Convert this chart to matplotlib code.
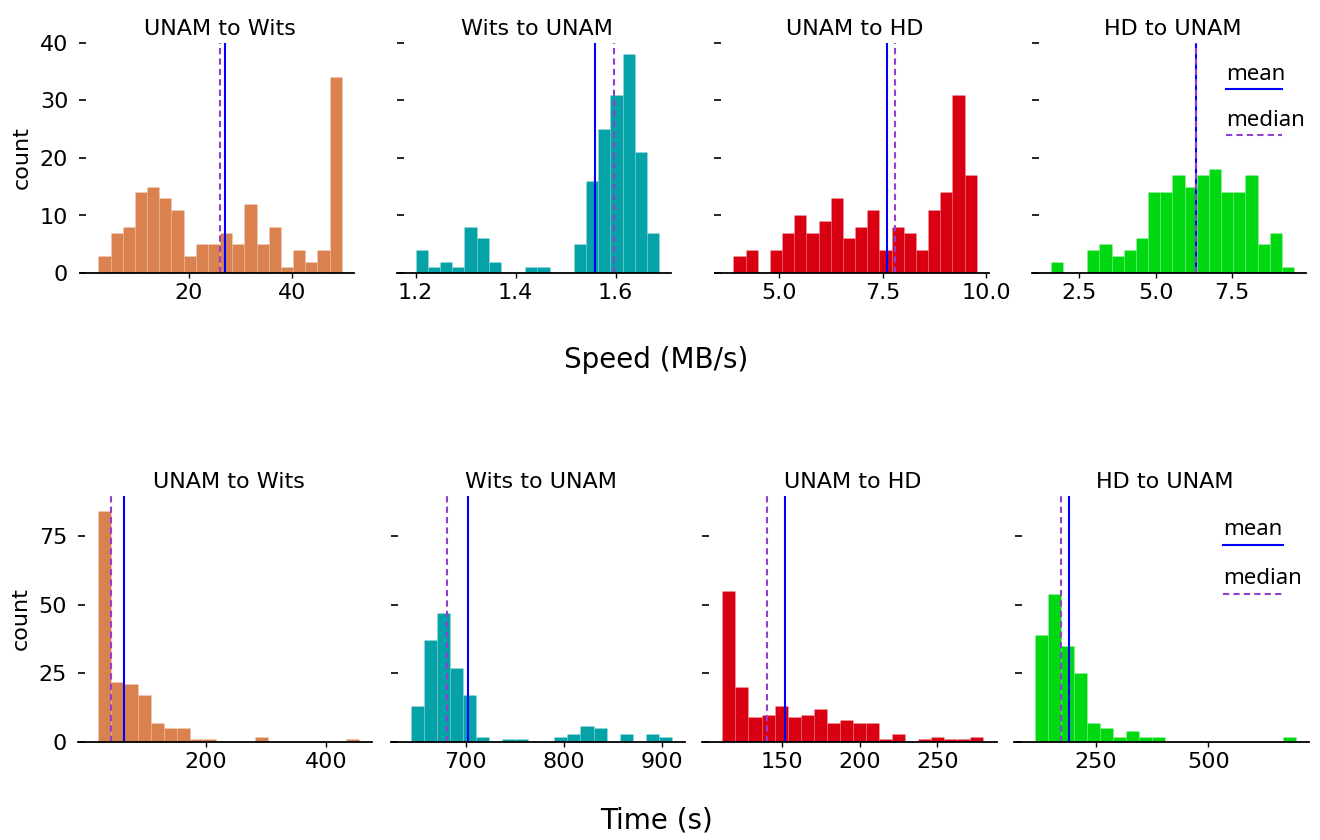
import numpy as np
import matplotlib
matplotlib.use("Agg")
import matplotlib.pyplot as plt

# routes, in panel order
routes = ["UNAM to Wits", "Wits to UNAM", "UNAM to HD", "HD to UNAM"]
colors = ["#D9814F", "#05A3A8", "#D90011", "#00D812"]

# speed histograms (MB/s): 20 bins between min and max
speed_ranges = [(2.45, 49.7), (1.2, 1.687), (3.897, 9.775), (1.561, 9.53)]
speed_counts = [
    [3, 7, 8, 14, 15, 13, 11, 3, 5, 5, 7, 5, 12, 5, 8, 1, 4, 2, 4, 34],
    [4, 1, 2, 1, 8, 6, 2, 0, 0, 1, 1, 0, 0, 5, 16, 25, 31, 38, 21, 7],
    [3, 4, 0, 4, 7, 10, 7, 9, 13, 6, 8, 11, 4, 8, 7, 4, 11, 14, 31, 17],
    [2, 0, 0, 4, 5, 3, 4, 6, 14, 14, 17, 15, 17, 18, 14, 14, 17, 5, 7, 1],
]
speed_mean = [27.0, 1.559, 7.60, 6.31]
speed_median = [26.1, 1.597, 7.79, 6.33]
speed_xticks = [[20, 40], [1.2, 1.4, 1.6], [5.0, 7.5, 10.0], [2.5, 5.0, 7.5]]
speed_yticks = [0, 10, 20, 30, 40]

# transfer time histograms (s)
time_ranges = [(21.6, 455.4), (643.9, 910.2), (111.9, 279.6), (113.5, 694.4)]
time_counts = [
    [84, 22, 21, 17, 7, 5, 5, 1, 1, 0, 0, 0, 2, 0, 0, 0, 0, 0, 0, 1],
    [13, 37, 47, 27, 17, 2, 0, 1, 1, 0, 0, 2, 3, 6, 5, 0, 3, 0, 3, 2],
    [55, 20, 9, 10, 13, 9, 10, 12, 7, 8, 7, 7, 1, 3, 0, 1, 2, 1, 1, 2],
    [39, 54, 35, 25, 7, 5, 2, 4, 2, 2, 0, 0, 0, 0, 0, 0, 0, 0, 0, 2],
]
time_mean = [64.3, 702.5, 152.1, 189.2]
time_median = [42.7, 681.0, 140.6, 171.4]
time_xticks = [[200, 400], [700, 800, 900], [150, 200, 250], [250, 500]]
time_yticks = [0, 25, 50, 75]

MEAN_COLOR = "blue"
MEDIAN_COLOR = "#9040D0"
W, H = 1320, 840


def add_row(fig, lefts, width, top, bottom, ranges, counts, means, medians,
            xticks, yticks, ytop):
    axes = []
    for i in range(4):
        rect = [lefts[i] / W, 1 - bottom / H, width / W, (bottom - top) / H]
        ax = fig.add_axes(rect, sharey=axes[0] if axes else None)
        lo, hi = ranges[i]
        edges = np.linspace(lo, hi, len(counts[i]) + 1)
        ax.hist(edges[:-1], bins=edges, weights=counts[i], color=colors[i],
                edgecolor=(1, 1, 1, 0.15), linewidth=0.5)
        ax.axvline(means[i], color=MEAN_COLOR, lw=1.5, zorder=3)
        ax.axvline(medians[i], color=MEDIAN_COLOR, lw=1.5, ls=(0, (3, 2)), zorder=3)
        ax.set_title(routes[i], fontsize=16, pad=6)
        ax.set_xticks(xticks[i])
        for s in ["top", "right", "left", "bottom"]:
            ax.spines[s].set_visible(False)
        # baseline, drawn a bit past the left edge
        ax.plot([-0.025, 1], [0, 0], transform=ax.get_yaxis_transform(),
                color="black", lw=1.3, clip_on=False, zorder=4)
        ax.tick_params(axis="y", length=5, width=1.2, pad=8, labelsize=16)
        ax.tick_params(axis="x", length=3.5, width=1.0, pad=4, labelsize=16)
        if i > 0:
            ax.tick_params(axis="y", labelleft=False)
        axes.append(ax)
    axes[0].set_yticks(yticks)
    axes[0].set_ylim(0, ytop)
    axes[0].set_ylabel("count", fontsize=16, labelpad=6)

    # legend-like labels with the line under the text
    lg = axes[-1]
    for label, ty, ly, col, ls in [("mean", 0.862, 0.80, MEAN_COLOR, "-"),
                                    ("median", 0.665, 0.60, MEDIAN_COLOR, (0, (3, 2)))]:
        lg.text(0.70, ty, label, transform=lg.transAxes, fontsize=16,
                family=["Noto Sans", "DejaVu Sans"], va="center", ha="left")
        lg.plot([0.70, 0.91], [ly, ly], transform=lg.transAxes, color=col,
                lw=1.5, ls=ls, clip_on=False)
    return axes


fig = plt.figure(figsize=(13.2, 8.4), dpi=100)

add_row(fig, [86.2, 403.5, 721.2, 1038.5], 267.7, 43, 273,
        speed_ranges, speed_counts, speed_mean, speed_median,
        speed_xticks, speed_yticks, 40)
add_row(fig, [85.3, 397.7, 709.3, 1021.6], 287.2, 496, 742,
        time_ranges, time_counts, time_mean, time_median,
        time_xticks, time_yticks, 89.5)

fig.text(656 / W, 1 - 360 / H, "Speed (MB/s)", fontsize=20, ha="center", va="center")
fig.text(656 / W, 1 - 820 / H, "Time (s)", fontsize=20, ha="center", va="center")

fig.savefig("out.png", dpi=100)
